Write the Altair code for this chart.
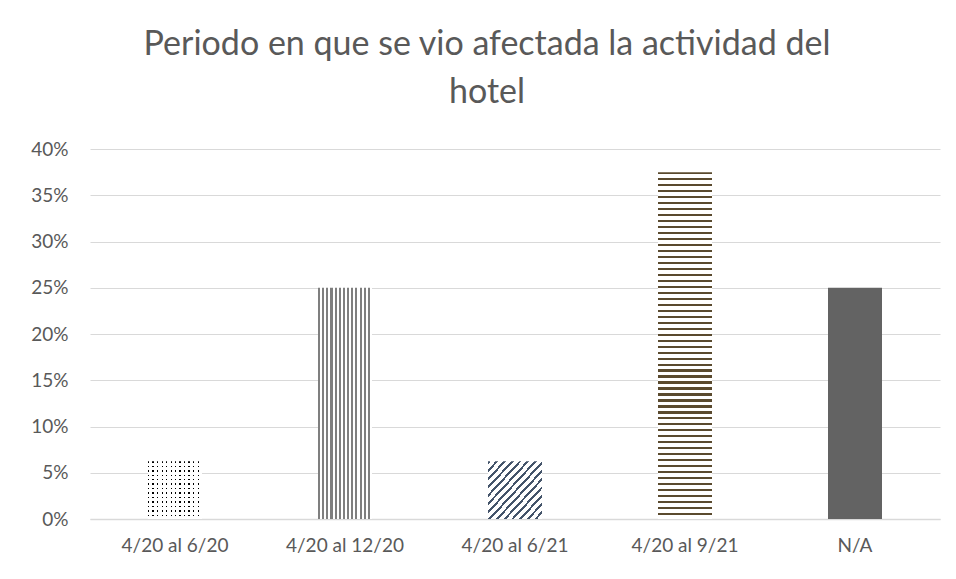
import altair as alt
import pandas as pd

categories = ["4/20 al 6/20", "4/20 al 12/20", "4/20 al 6/21", "4/20 al 9/21", "N/A"]
values = [0.0625, 0.25, 0.0625, 0.375, 0.25]
y_ticks = [0, 0.05, 0.10, 0.15, 0.20, 0.25, 0.30, 0.35, 0.40]

df = pd.DataFrame({"cat": categories, "val": values})

FONT = "Lato, Open Sans, sans-serif"
TXT = "#595959"


def stripes(color, n, frac, bg="white", x1=0, y1=0, x2=1, y2=0):
    stops = []
    for i in range(n):
        a = i / n
        b = (i + frac) / n
        c = (i + 1) / n
        stops += [(a, color), (b, color), (b, bg), (c, bg)]
    return {
        "gradient": "linear", "x1": x1, "y1": y1, "x2": x2, "y2": y2,
        "stops": [{"offset": round(o, 5), "color": col} for o, col in stops],
    }


CLEAR = "rgba(255,255,255,0)"
fills = [
    [stripes("#000000", 12, 0.33), stripes(CLEAR, 13, 0.33, bg="white", x1=0, y1=0, x2=0, y2=1)],
    [stripes("#7f7f7f", 13, 0.5)],
    [stripes("#44546a", 14, 0.36, x1=0, y1=0, x2=1, y2=1)],
    [stripes("#5a4a2e", 58, 0.36, x1=0, y1=0, x2=0, y2=1)],
    ["#636363"],
]

x_enc = alt.X(
    "cat:N",
    sort=categories,
    scale=alt.Scale(domain=categories, paddingInner=0, paddingOuter=0),
    axis=alt.Axis(
        title=None, labelAngle=0, ticks=False, domainColor="#d9d9d9", domainWidth=1.5,
        labelColor=TXT, labelFont=FONT, labelFontSize=19, labelPadding=17, grid=False,
    ),
)
y_enc = alt.Y(
    "val:Q",
    scale=alt.Scale(domain=[0, 0.4], nice=False),
    axis=alt.Axis(
        title=None, values=y_ticks, format=".0%", ticks=False, domain=False,
        gridColor="#d9d9d9", gridWidth=1.2, labelColor=TXT, labelFont=FONT,
        labelFontSize=19, labelPadding=22,
    ),
)

layers = []
for cat, flist in zip(categories, fills):
    for f in flist:
        layers.append(
            alt.Chart(df)
            .transform_filter(alt.datum.cat == cat)
            .mark_bar(width=54, fill=f)
            .encode(x=x_enc, y=y_enc)
        )

chart = (
    alt.layer(*layers)
    .properties(
        width=850,
        height=370,
        autosize=alt.AutoSizeParams(type="none"),
        padding={"left": 82, "top": 141, "right": 8, "bottom": 52},
        view=alt.ViewBackground(stroke=None),
        title=alt.TitleParams(
            ["Periodo en que se vio afectada la actividad del", "hotel"],
            font=FONT, fontSize=34, fontWeight="normal", color=TXT,
            anchor="middle", dx=-28, offset=30, lineHeight=48,
        ),
    )
    .configure_view(stroke=None)
    .configure_axisY(domain=False)
    .configure(background="white")
)

chart.save("out.html", embed_options={"renderer": "svg", "actions": False})
